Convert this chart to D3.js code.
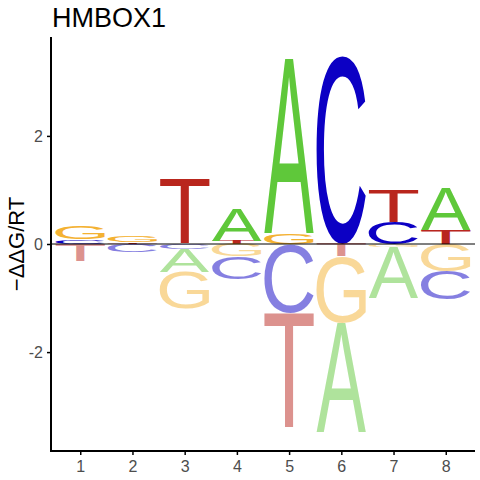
<!DOCTYPE html>
<html>
<head>
<meta charset="utf-8">
<script src="https://cdn.jsdelivr.net/npm/d3@7"></script>
<style>
  body { margin: 0; background: #fff; }
  svg { display: block; }
  .tick text { fill: #4d4d4d; font-family: "Liberation Sans", Arial, sans-serif; font-size: 16px; }
</style>
</head>
<body>
<div id="chart"></div>
<script>
// -ddG/RT per nucleotide at each position
const positions = [1, 2, 3, 4, 5, 6, 7, 8];
const valA = [0.00, 0.00, -0.42, 0.60, 3.23, -2.02, -0.95, 0.78];
const valC = [0.08, -0.15, -0.10, -0.42, -1.27, 3.48, 0.40, -0.53];
const valG = [0.24, 0.12, -0.68, -0.23, 0.20, -1.23, -0.05, -0.50];
const valT = [-0.32, 0.03, 1.20, 0.06, -2.15, -0.23, 0.59, 0.26];
const xTicks = [1, 2, 3, 4, 5, 6, 7, 8];
const yTicks = [-2, 0, 2];

const colours = { A: "#5fc83a", C: "#0c00c4", G: "#f4b232", T: "#b9261d" };
const font = "Liberation Sans";

const width = 480, height = 480;
const margin = { top: 37, right: 5, bottom: 29, left: 51 };

const svg = d3.select("#chart").append("svg")
    .attr("width", width)
    .attr("height", height);

const x = d3.scaleLinear()
    .domain([0.44, 8.56])
    .range([margin.left, width - margin.right]);

const y = d3.scaleLinear()
    .domain([-3.83, 3.83])
    .range([height - margin.bottom, margin.top]);

// tight glyph bounds measured on a canvas
const ctx = document.createElement("canvas").getContext("2d");
ctx.font = "100px '" + font + "'";
const glyph = {};
["A", "C", "G", "T"].forEach(l => {
    const m = ctx.measureText(l);
    glyph[l] = {
        left: m.actualBoundingBoxLeft,
        right: m.actualBoundingBoxRight,
        ascent: m.actualBoundingBoxAscent,
        descent: m.actualBoundingBoxDescent
    };
});

// stack the letters, smallest next to zero
const letters = [];
positions.forEach((p, i) => {
    const vals = [
        { letter: "A", v: valA[i] },
        { letter: "C", v: valC[i] },
        { letter: "G", v: valG[i] },
        { letter: "T", v: valT[i] }
    ].filter(d => d.v !== 0);

    let up = 0;
    vals.filter(d => d.v > 0).sort((a, b) => a.v - b.v).forEach(d => {
        letters.push({ pos: p, letter: d.letter, y0: up, y1: up + d.v, neg: false });
        up += d.v;
    });
    let down = 0;
    vals.filter(d => d.v < 0).sort((a, b) => b.v - a.v).forEach(d => {
        letters.push({ pos: p, letter: d.letter, y0: down + d.v, y1: down, neg: true });
        down += d.v;
    });
});

const letterWidth = 0.95;

svg.append("g")
    .selectAll("text")
    .data(letters)
    .enter()
    .append("text")
    .text(d => d.letter)
    .style("font-family", font)
    .style("font-size", "100px")
    .style("fill", d => colours[d.letter])
    .style("fill-opacity", d => d.neg ? 0.5 : 1)
    .attr("transform", d => {
        const g = glyph[d.letter];
        const rx = x(d.pos - letterWidth / 2);
        const rw = x(d.pos + letterWidth / 2) - rx;
        const ry = y(d.y1);
        const rh = y(d.y0) - ry;
        const sx = rw / (g.left + g.right);
        const sy = rh / (g.ascent + g.descent);
        return "translate(" + (rx + g.left * sx) + "," + (ry + g.ascent * sy) + ") scale(" + sx + "," + sy + ")";
    });

// zero line
svg.append("line")
    .attr("x1", x.range()[0])
    .attr("x2", x.range()[1])
    .attr("y1", y(0))
    .attr("y2", y(0))
    .attr("stroke", "#000")
    .attr("stroke-width", 1);

const xAxis = d3.axisBottom(x)
    .tickValues(xTicks)
    .tickSize(4)
    .tickPadding(6);

const yAxis = d3.axisLeft(y)
    .tickValues(yTicks)
    .tickFormat(d => d < 0 ? "-" + Math.abs(d) : d)
    .tickSize(4)
    .tickPadding(4);

const xAxisEl = svg.append("g")
    .attr("transform", "translate(0," + (height - margin.bottom) + ")")
    .call(xAxis);

const yAxisEl = svg.append("g")
    .attr("transform", "translate(" + margin.left + ",0)")
    .call(yAxis);

svg.selectAll(".domain").attr("stroke", "#000").attr("stroke-width", 2);
svg.selectAll(".tick line").attr("stroke", "#000").attr("stroke-width", 1.5);
yAxisEl.select(".domain").attr("d", "M0," + y.range()[1] + "V" + (y.range()[0] + 1));
xAxisEl.select(".domain").attr("d", "M" + (x.range()[0] - 1) + ",0H" + x.range()[1]);

svg.append("text")
    .text("HMBOX1")
    .attr("x", 52)
    .attr("y", 27)
    .style("font-family", font)
    .style("font-size", "27px")
    .style("fill", "#000");

svg.append("text")
    .text("\u2212\u0394\u0394G/RT")
    .attr("transform", "translate(24," + y(0) + ") rotate(-90)")
    .style("text-anchor", "middle")
    .style("font-family", font)
    .style("font-size", "22px")
    .style("fill", "#000");
</script>
</body>
</html>
